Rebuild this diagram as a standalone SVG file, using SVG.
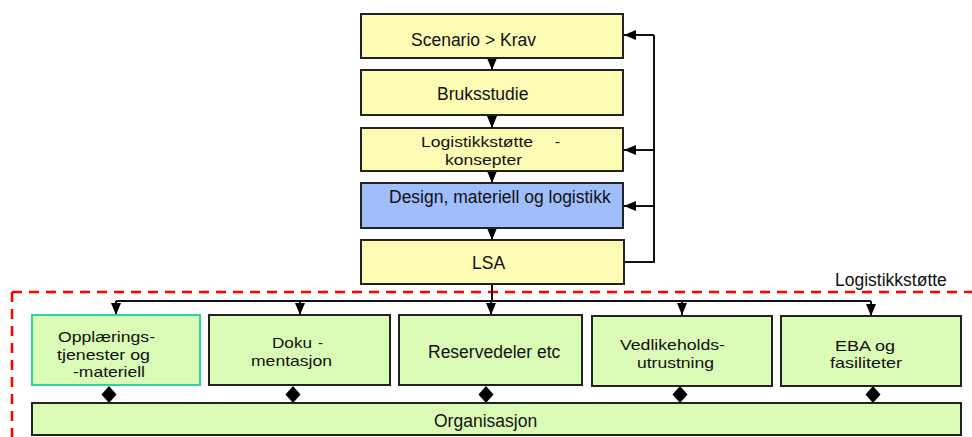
<svg xmlns="http://www.w3.org/2000/svg" width="972" height="437" viewBox="0 0 972 437">
<defs>
<style>
.t{font-family:"Liberation Sans",Arial,sans-serif;font-size:17.5px;fill:#111}
.m{font-family:"Liberation Sans",Arial,sans-serif;font-size:15px;fill:#111}
.y{fill:#FCFCB4;stroke:#222;stroke-width:2}
.b{fill:#A0BEFC;stroke:#222;stroke-width:2}
.g{fill:#DAFCB6;stroke:#222;stroke-width:2}
.ln{fill:none;stroke:#111;stroke-width:2}
.ah{fill:#000}
</style>
<marker id="ar" viewBox="0 0 12 10" refX="12" refY="5" markerWidth="12" markerHeight="10" markerUnits="userSpaceOnUse" orient="auto">
<path d="M0,0 L12,5 L0,10 Z" fill="#000"/>
</marker>
</defs>
<rect width="972" height="437" fill="#fff"/>
<g id="frame">
<path d="M12,292 H972 M12,292 V437" fill="none" stroke="#f00" stroke-width="2.5" stroke-dasharray="10,7"/>
<text class="t" x="835" y="286">Logistikkstøtte</text>
</g>
<g id="connectors">
<path class="ln" d="M492,58 V70" marker-end="url(#ar)"/>
<path class="ln" d="M492,115 V128" marker-end="url(#ar)"/>
<path class="ln" d="M492,171 V183" marker-end="url(#ar)"/>
<path class="ln" d="M492,228 V240" marker-end="url(#ar)"/>
<path class="ln" d="M624,262 H654 V35"/>
<path class="ln" d="M654,35 H624" marker-end="url(#ar)"/>
<path class="ln" d="M654,150 H624" marker-end="url(#ar)"/>
<path class="ln" d="M654,206 H624" marker-end="url(#ar)"/>
<path class="ln" d="M492,284 V301"/>
<path class="ln" d="M116,301 H871"/>
<path class="ln" d="M116,301 V315" marker-end="url(#ar)"/>
<path class="ln" d="M300,301 V315" marker-end="url(#ar)"/>
<path class="ln" d="M491,301 V315" marker-end="url(#ar)"/>
<path class="ln" d="M682,301 V315" marker-end="url(#ar)"/>
<path class="ln" d="M871,301 V316" marker-end="url(#ar)"/>
<path class="ah" d="M109,386 L116.5,394.5 L109,403 L101.5,394.5 Z"/>
<path class="ah" d="M293,386 L300.5,394.5 L293,403 L285.5,394.5 Z"/>
<path class="ah" d="M486,386 L493.5,394.5 L486,403 L478.5,394.5 Z"/>
<path class="ah" d="M680,386 L687.5,394.5 L680,403 L672.5,394.5 Z"/>
<path class="ah" d="M873,386 L880.5,394.5 L873,403 L865.5,394.5 Z"/>
</g>
<g id="scenario">
<rect class="y" x="361" y="14" width="262" height="44"/>
<text class="t" x="411" y="46">Scenario &gt; Krav</text>
</g>
<g id="bruksstudie">
<rect class="y" x="361" y="70" width="262" height="45"/>
<text class="t" x="437" y="100">Bruksstudie</text>
</g>
<g id="konsepter">
<rect class="y" x="361" y="128" width="262" height="43"/>
<text class="m" x="421" y="147" textLength="112" lengthAdjust="spacingAndGlyphs">Logistikkstøtte</text>
<text class="m" x="555" y="147">-</text>
<text class="m" x="445" y="165" textLength="77" lengthAdjust="spacingAndGlyphs">konsepter</text>
</g>
<g id="design">
<rect class="b" x="361" y="183" width="262" height="45"/>
<text class="t" x="389" y="203">Design, materiell og logistikk</text>
</g>
<g id="lsa">
<rect class="y" x="361" y="240" width="263" height="44"/>
<text class="t" x="472" y="269">LSA</text>
</g>
<g id="opplaering">
<rect x="32" y="315" width="168" height="70" fill="#DAFCB6" stroke="#2CD3A0" stroke-width="2"/>
<text class="m" x="58" y="342" textLength="97" lengthAdjust="spacingAndGlyphs">Opplærings-</text>
<text class="m" x="57" y="360" textLength="93" lengthAdjust="spacingAndGlyphs">tjenester og</text>
<text class="m" x="73" y="377" textLength="72" lengthAdjust="spacingAndGlyphs">-materiell</text>
</g>
<g id="dokumentasjon">
<rect class="g" x="209" y="315" width="181" height="70"/>
<text class="m" x="272" y="348" textLength="40" lengthAdjust="spacingAndGlyphs">Doku</text>
<text class="m" x="318" y="348">-</text>
<text class="m" x="251" y="366" textLength="81" lengthAdjust="spacingAndGlyphs">mentasjon</text>
</g>
<g id="reservedeler">
<rect class="g" x="399" y="315" width="183" height="70"/>
<text class="t" x="428" y="358">Reservedeler etc</text>
</g>
<g id="vedlikehold">
<rect class="g" x="592" y="316" width="180" height="70"/>
<text class="m" x="620" y="350" textLength="105" lengthAdjust="spacingAndGlyphs">Vedlikeholds-</text>
<text class="m" x="637" y="368" textLength="77" lengthAdjust="spacingAndGlyphs">utrustning</text>
</g>
<g id="eba">
<rect class="g" x="781" y="316" width="180" height="70"/>
<text class="m" x="835" y="351" textLength="60" lengthAdjust="spacingAndGlyphs">EBA og</text>
<text class="m" x="830" y="368" textLength="72" lengthAdjust="spacingAndGlyphs">fasiliteter</text>
</g>
<g id="organisasjon">
<rect class="g" x="32" y="403" width="929" height="32"/>
<text class="t" x="434" y="427">Organisasjon</text>
</g>
</svg>
